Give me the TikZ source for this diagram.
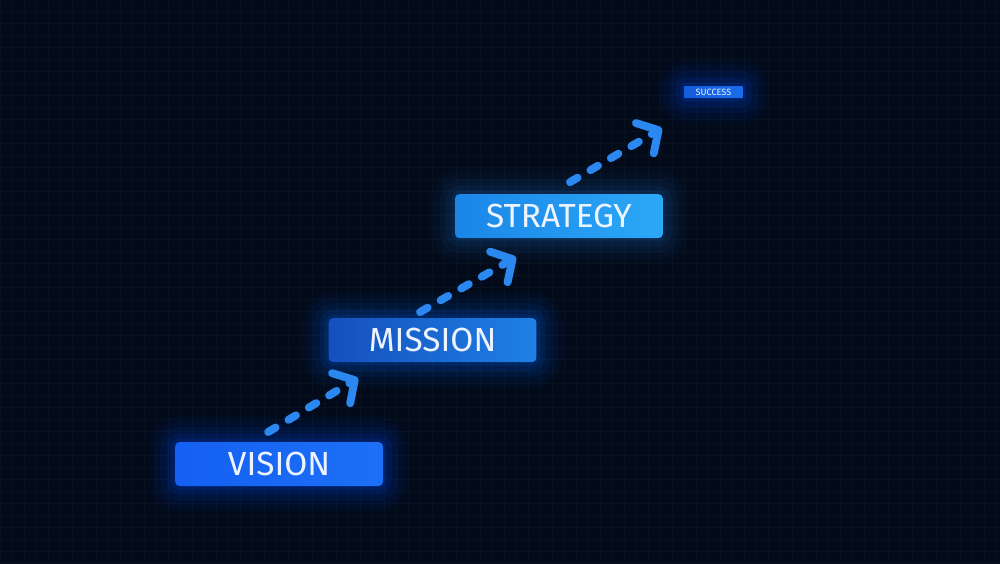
\documentclass[tikz,border=0pt]{standalone}
\usepackage{fontspec}
\setmainfont{Fira Sans}
\usetikzlibrary{arrows.meta}
\definecolor{night}{HTML}{030A19}
\definecolor{gridblue}{HTML}{08111F}
\definecolor{textwhite}{HTML}{EEF4FF}
\definecolor{arrowblue}{HTML}{2A88F0}
\definecolor{visL}{HTML}{1560F2}
\definecolor{visR}{HTML}{1C70F6}
\definecolor{misL}{HTML}{1550BC}
\definecolor{misR}{HTML}{1F80E6}
\definecolor{strL}{HTML}{1A86E8}
\definecolor{strR}{HTML}{2CA8F6}
\definecolor{sucL}{HTML}{145CDC}
\definecolor{sucR}{HTML}{1A6CEA}
\tikzset{glow/.style={
    preaction={draw=#1, line width=30pt, draw opacity=0.035, line join=round},
    preaction={draw=#1, line width=24pt, draw opacity=0.05, line join=round},
    preaction={draw=#1, line width=17pt, draw opacity=0.07, line join=round},
    preaction={draw=#1, line width=10pt, draw opacity=0.1, line join=round},
    preaction={draw=#1, line width=4pt, draw opacity=0.12, line join=round}}}
\tikzset{b/.style={font=\fontsize{19}{19}\selectfont, text=textwhite, rounded corners=2.5pt,
    minimum width=4.16cm, minimum height=0.88cm, inner sep=0pt}}
\tikzset{s/.style={font=\fontsize{5.2}{5.2}\selectfont, text=textwhite, rounded corners=0.5pt,
    minimum width=1.18cm, minimum height=0.24cm, inner sep=0pt}}
\tikzset{up/.style={arrowblue, line width=4.5pt, line cap=round, dash pattern=on 5pt off 8.5pt,
    -{Straight Barb[round, length=9pt, width=20pt]}}}

\begin{document}
\begin{tikzpicture}
        \fill[night] (0,0) rectangle (20,11.26);
        \draw[gridblue, line width=0.3pt, step=0.24] (0,0) grid (20,11.26);
        \useasboundingbox (0,0) rectangle (20,11.26);
        % steps
        \node[b, glow=blue!70!cyan, left color=visL, right color=visR] (vis) at (5.58,1.98) {VISION};
        \node[b, glow=blue!60!cyan, left color=misL, right color=misR] (mis) at (8.65,4.46) {MISSION};
        \node[b, glow=cyan!40!blue, left color=strL, right color=strR] (str) at (11.18,6.94) {STRATEGY};
        \node[s, glow=blue!70!cyan, left color=sucL, right color=sucR] (suc) at (14.27,9.42) {SUCCESS};
        % arrows
        \coordinate (a1) at (5.36,2.62);
        \coordinate (a2) at (7.16,3.70);
        \coordinate (b1) at (8.40,5.02);
        \coordinate (b2) at (10.32,6.12);
        \coordinate (c1) at (11.40,7.62);
        \coordinate (c2) at (13.24,8.70);
        \draw[up] (a1) -- (a2);
        \draw[up] (b1) -- (b2);
        \draw[up] (c1) -- (c2);
      \end{tikzpicture}
\end{document}
